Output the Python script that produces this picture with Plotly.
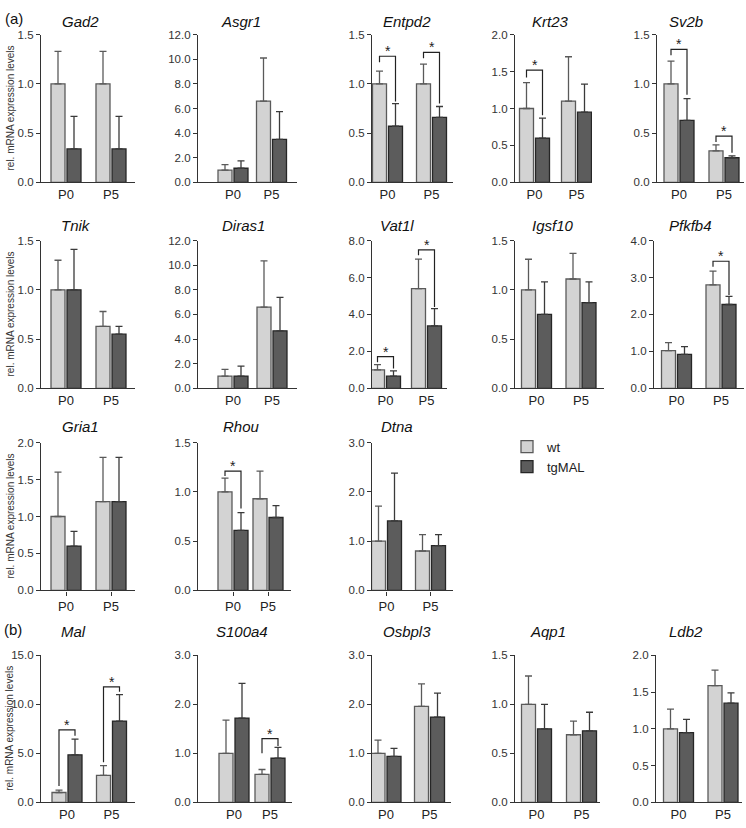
import plotly.graph_objects as go

# ---------------- data ----------------
GENES = ["Gad2", "Asgr1", "Entpd2", "Krt23", "Sv2b",
         "Tnik", "Diras1", "Vat1l", "Igsf10", "Pfkfb4",
         "Gria1", "Rhou", "Dtna",
         "Mal", "S100a4", "Osbpl3", "Aqp1", "Ldb2"]
AGES = ["P0", "P5"]
SERIES = ["wt", "tgMAL"]

WT_P0 = [1.0, 1.0, 1.0, 1.0, 1.0, 1.0, 1.0, 1.0, 1.0, 1.02, 1.0, 1.0, 1.0, 1.0, 1.0, 1.0, 1.0, 1.0]
WT_P5 = [1.0, 6.6, 1.0, 1.1, 0.32, 0.63, 6.6, 5.4, 1.11, 2.8, 1.2, 0.93, 0.8, 2.75, 0.57, 1.96, 0.69, 1.59]
TG_P0 = [0.34, 1.15, 0.57, 0.6, 0.63, 1.0, 1.0, 0.66, 0.75, 0.92, 0.6, 0.61, 1.41, 4.85, 1.72, 0.94, 0.75, 0.95]
TG_P5 = [0.34, 3.5, 0.66, 0.95, 0.25, 0.55, 4.67, 3.38, 0.87, 2.27, 1.2, 0.74, 0.91, 8.3, 0.9, 1.74, 0.73, 1.35]

WT_P0_SD = [0.33, 0.45, 0.13, 0.35, 0.23, 0.30, 0.55, 0.28, 0.31, 0.22, 0.6, 0.14, 0.71, 0.25, 0.68, 0.27, 0.29, 0.27]
WT_P5_SD = [0.33, 3.5, 0.20, 0.6, 0.06, 0.15, 3.75, 1.6, 0.26, 0.37, 0.6, 0.28, 0.33, 1.0, 0.10, 0.46, 0.14, 0.21]
TG_P0_SD = [0.33, 0.6, 0.23, 0.27, 0.22, 0.41, 0.8, 0.29, 0.33, 0.21, 0.2, 0.18, 0.97, 1.6, 0.71, 0.16, 0.25, 0.18]
TG_P5_SD = [0.33, 2.25, 0.11, 0.38, 0.02, 0.08, 2.72, 0.94, 0.21, 0.22, 0.6, 0.12, 0.22, 2.7, 0.22, 0.49, 0.19, 0.14]

Y_MAX = [1.5, 12, 1.5, 2.0, 1.5, 1.5, 12, 8, 1.5, 4, 2, 1.5, 3, 15, 3, 3, 1.5, 2]
Y_STEP = [0.5, 2, 0.5, 0.5, 0.5, 0.5, 2, 2, 0.5, 1, 0.5, 0.5, 1, 5, 1, 1, 0.5, 0.5]

# significance brackets
SIG_GENE = ["Entpd2", "Entpd2", "Krt23", "Sv2b", "Sv2b", "Vat1l", "Vat1l", "Pfkfb4", "Rhou", "Mal", "Mal", "S100a4"]
SIG_AGE = [0, 1, 0, 0, 1, 0, 1, 1, 0, 0, 1, 1]
SIG_Y = [1.28, 1.32, 1.52, 1.35, 0.47, 1.72, 7.5, 3.44, 1.21, 7.4, 11.8, 1.30]
SIG_WT_END = [1.22, 1.26, 1.42, 1.29, 0.41, 1.42, 7.2, 3.29, 1.16, 1.66, 4.1, 1.0]
SIG_TG_END = [0.82, 0.80, 0.91, 0.89, 0.30, 1.07, 4.4, 2.53, 0.83, 6.8, 11.3, 1.15]
SIG_TEXT = ["*"] * 12

# ---------------- layout geometry (pixels) ----------------
W, H = 746, 828
PANEL_ROW = [0] * 5 + [1] * 5 + [2] * 3 + [3] * 5
AX_X0 = [41, 198, 372, 515, 657, 41, 198, 372, 515, 654, 41, 198, 372, 41, 198, 372, 515, 656]
AX_X1 = [135, 297, 453, 592, 744, 135, 297, 447, 604, 744, 135, 291, 453, 135, 292, 451, 600, 742]
GRP_C0 = [66, 233, 387.5, 534.5, 679, 66, 233, 385.5, 536.5, 676.5, 66, 233, 386.5, 67, 234, 386, 536.5, 678.5]
GRP_C1 = [111, 271.5, 431.5, 576.5, 724, 111, 272, 426.5, 581, 721, 111, 268, 430.5, 111.5, 270, 429.5, 581.5, 723]
ROW_TOP = [29, 238, 443, 659]
ROW_BOT = [179, 388, 593, 808]
ROW_XTICKS = [False, False, True, False]
TITLE_X = [80, 241, 407, 550, 686, 76, 243, 397, 553, 690, 80, 241, 397, 73, 242, 407, 548, 686]
TITLE_Y = [16, 223, 427, 635]
BAR_W = 14.0
BAR_GAP = 2.0

FONT = "Liberation Sans, Arial, sans-serif"
WT_FILL, WT_LINE = "#d3d3d3", "#5a5a5a"
TG_FILL, TG_LINE = "#5c5c5c", "#262626"
AX_COL = "#333333"


def px(x):
    return x / W


def py(y):
    return 1 - y / H


fig = go.Figure()
annotations = []
layout_axes = {}

for i, gene in enumerate(GENES):
    n = i + 1
    xa = "x" if n == 1 else f"x{n}"
    ya = "y" if n == 1 else f"y{n}"
    xk = "xaxis" if n == 1 else f"xaxis{n}"
    yk = "yaxis" if n == 1 else f"yaxis{n}"
    r = PANEL_ROW[i]
    unit = GRP_C1[i] - GRP_C0[i]
    bw = BAR_W / unit
    gp = BAR_GAP / unit

    wt_vals = [WT_P0[i], WT_P5[i]]
    tg_vals = [TG_P0[i], TG_P5[i]]
    wt_sd = [WT_P0_SD[i], WT_P5_SD[i]]
    tg_sd = [TG_P0_SD[i], TG_P5_SD[i]]

    fig.add_trace(go.Bar(
        x=[0, 1], y=wt_vals, name=SERIES[0], legendgroup="wt", showlegend=(i == 0),
        width=[bw, bw], offset=[-(bw + gp / 2)] * 2,
        marker=dict(color=WT_FILL, line=dict(color=WT_LINE, width=1.3)),
        error_y=dict(type="data", symmetric=False, array=wt_sd, arrayminus=[0, 0],
                     color=WT_LINE, thickness=1.3, width=3.5),
        xaxis=xa, yaxis=ya, hoverinfo="skip"))
    fig.add_trace(go.Bar(
        x=[0, 1], y=tg_vals, name=SERIES[1], legendgroup="tg", showlegend=(i == 0),
        width=[bw, bw], offset=[gp / 2] * 2,
        marker=dict(color=TG_FILL, line=dict(color=TG_LINE, width=1.3)),
        error_y=dict(type="data", symmetric=False, array=tg_sd, arrayminus=[0, 0],
                     color="#3a3a3a", thickness=1.3, width=3.5),
        xaxis=xa, yaxis=ya, hoverinfo="skip"))

    # significance brackets for this gene
    for k, g in enumerate(SIG_GENE):
        if g != gene:
            continue
        a = SIG_AGE[k]
        xw = a - gp / 2 - bw / 2
        xt = a + gp / 2 + bw / 2
        fig.add_trace(go.Scatter(
            x=[xw, xw, xt, xt], y=[SIG_WT_END[k], SIG_Y[k], SIG_Y[k], SIG_TG_END[k]],
            mode="lines", line=dict(color="#222222", width=1.2),
            showlegend=False, hoverinfo="skip", xaxis=xa, yaxis=ya))
        annotations.append(dict(
            x=a, y=SIG_Y[k], xref=xa, yref=ya, text=SIG_TEXT[k], showarrow=False,
            yanchor="bottom", yshift=-5, font=dict(family=FONT, size=14, color="#222222")))

    x_rng = [(AX_X0[i] - GRP_C0[i]) / unit, (AX_X1[i] - GRP_C0[i]) / unit]
    layout_axes[xk] = dict(
        domain=[px(AX_X0[i]), px(AX_X1[i])], anchor=ya, range=x_rng,
        tickvals=[0, 1], ticktext=AGES, showline=True, linecolor=AX_COL, linewidth=1.3,
        ticks="outside" if ROW_XTICKS[r] else "", ticklen=4, tickwidth=1.2, tickcolor=AX_COL,
        showgrid=False, zeroline=False, fixedrange=True,
        tickfont=dict(family=FONT, size=13, color="#222222"))
    layout_axes[yk] = dict(
        domain=[py(ROW_BOT[r]), py(ROW_TOP[r])], anchor=xa, range=[0, Y_MAX[i]],
        tick0=0, dtick=Y_STEP[i], tickformat=".1f", showline=True, linecolor=AX_COL,
        linewidth=1.3, ticks="outside", ticklen=4, tickwidth=1.2, tickcolor=AX_COL,
        showgrid=False, zeroline=False, fixedrange=True,
        tickfont=dict(family=FONT, size=11.5, color="#333333"))

    annotations.append(dict(
        x=px(TITLE_X[i]), y=py(TITLE_Y[r]), xref="paper", yref="paper", text=gene,
        showarrow=False, xanchor="center", yanchor="middle",
        font=dict(family=FONT, size=15, color="#111111", style="italic")))

# y-axis titles (one per row)
for r in range(4):
    annotations.append(dict(
        x=px(10), y=py((ROW_TOP[r] + ROW_BOT[r]) / 2), xref="paper", yref="paper",
        text="rel. mRNA expression levels", textangle=-90, showarrow=False,
        xanchor="center", yanchor="middle", font=dict(family=FONT, size=10, color="#333333")))

# panel letters
annotations.append(dict(x=px(14), y=py(13), xref="paper", yref="paper", text="(a)", showarrow=False,
                        xanchor="center", yanchor="middle", font=dict(family=FONT, size=15, color="#111111")))
annotations.append(dict(x=px(13), y=py(633), xref="paper", yref="paper", text="(b)", showarrow=False,
                        xanchor="center", yanchor="middle", font=dict(family=FONT, size=15, color="#111111")))

fig.update_layout(
    width=W, height=H, margin=dict(l=0, r=0, t=0, b=0),
    paper_bgcolor="white", plot_bgcolor="white", barmode="overlay",
    showlegend=True,
    legend=dict(x=px(507), y=py(432), xanchor="left", yanchor="top", bgcolor="rgba(0,0,0,0)",
                font=dict(family=FONT, size=13, color="#222222"), tracegroupgap=0,
                itemclick=False, itemdoubleclick=False),
    annotations=annotations,
    **layout_axes)

fig.write_html("out.html", config={"displayModeBar": False},
               post_script="document.body.style.margin='0px';document.body.style.overflow='hidden';")
